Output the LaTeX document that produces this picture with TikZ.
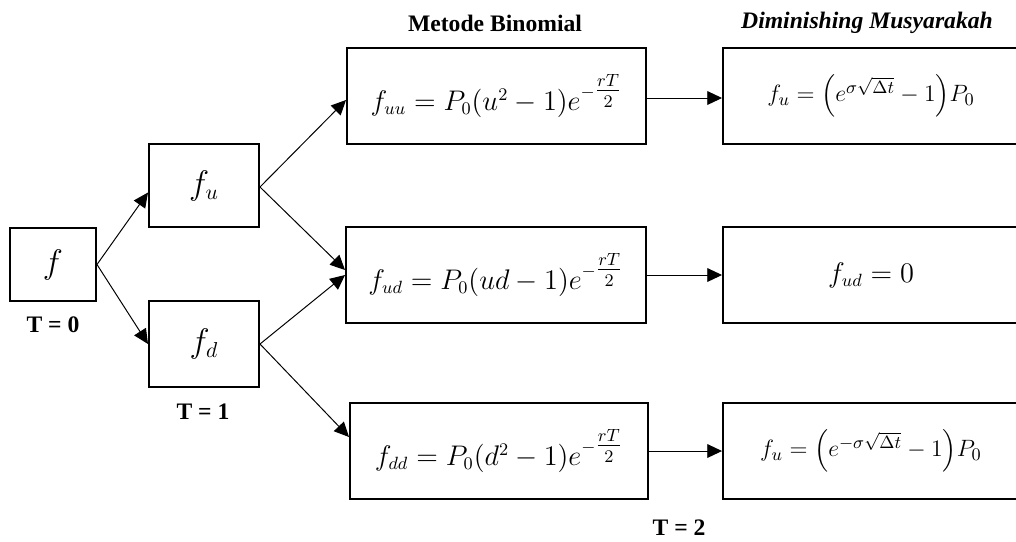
\documentclass[tikz,border=0pt]{standalone}
\usepackage{amsmath}
\usepackage{fontspec}
\setmainfont{Liberation Serif}
\usetikzlibrary{arrows.meta,calc}

\newlength\unidad
\setlength\unidad{0.5076pt}

\tikzset{
  caja/.style={draw,line width=1pt,inner sep=0pt},
  flecha/.style={line width=0.5pt,-{Triangle[length=7.5pt,width=7pt]}},
  titulo/.style={font=\bfseries\fontsize{12}{14}\selectfont},
  formula/.style={font=\fontsize{13.5}{16}\selectfont},
  formulab/.style={font=\fontsize{12.5}{15}\selectfont},
  nodo/.style={font=\fontsize{16}{19}\selectfont}
}

\begin{document}
\begin{tikzpicture}[x=\unidad,y=-\unidad]
    \useasboundingbox (0,0) rectangle (1016,541);
    \clip (0,0) rectangle (1016,541);

    % arbol binomial
    \node[caja,nodo,minimum width=86\unidad,minimum height=73\unidad] (f) at (53,264.5) {$f$};
    \node[caja,nodo,minimum width=110\unidad,minimum height=83\unidad] (fu) at (204,185.5) {$f_u$};
    \node[caja,nodo,minimum width=110\unidad,minimum height=86\unidad] (fd) at (204,344) {$f_d$};

    % metode binomial
    \node[caja,formula,minimum width=299\unidad,minimum height=96\unidad] (fuu) at (496.5,96)
        {$f_{uu} = P_0(u^2-1)e^{-\tfrac{rT}{2}}$};
    \node[caja,formula,minimum width=300\unidad,minimum height=96\unidad] (fud) at (496,275)
        {$f_{ud} = P_0(ud-1)e^{-\tfrac{rT}{2}}$};
    \node[caja,formula,minimum width=298\unidad,minimum height=96\unidad] (fdd) at (499,451)
        {$f_{dd} = P_0(d^2-1)e^{-\tfrac{rT}{2}}$};

    % diminishing musyarakah
    \node[caja,formulab,minimum width=296\unidad,minimum height=96\unidad] (dmuu) at (871,96)
        {$f_u = \Bigl(e^{\sigma\sqrt{\Delta t}}-1\Bigr)P_0$};
    \node[caja,formula,minimum width=296\unidad,minimum height=96\unidad] (dmud) at (871,275)
        {$f_{ud} = 0$};
    \node[caja,formulab,minimum width=296\unidad,minimum height=96\unidad] (dmdd) at (871,451)
        {$f_u = \Bigl(e^{-\sigma\sqrt{\Delta t}}-1\Bigr)P_0$};

    % flechas
    \draw[flecha] (f.east) -- ($(fu.west)+(0,7)$);
    \draw[flecha] (f.east) -- (fd.west);
    \draw[flecha] ($(fu.east)+(0,1.5)$) -- ($(fuu.west)+(0,4)$);
    \draw[flecha] ($(fu.east)+(0,1.5)$) -- ($(fud.west)+(0,-5)$);
    \draw[flecha] (fd.east) -- (fud.west);
    \draw[flecha] (fd.east) -- ($(fdd.west)+(0,-14)$);
    \draw[flecha] ($(fuu.east)+(0,2)$) -- ($(dmuu.west)+(0,2)$);
    \draw[flecha] (fud.east) -- (dmud.west);
    \draw[flecha] (fdd.east) -- (dmdd.west);

    % etiquetas
    \node[titulo] (mb) at (495,23) {Metode Binomial};
    \node[titulo,font=\bfseries\itshape\fontsize{12}{14}\selectfont] (dm) at (867,23) {Diminishing Musyarakah};
    \node[titulo] (t0) at (53,325) {T = 0};
    \node[titulo] (t1) at (203,412) {T = 1};
    \node[titulo] (t2) at (679,528) {T = 2};
\end{tikzpicture}
\end{document}
